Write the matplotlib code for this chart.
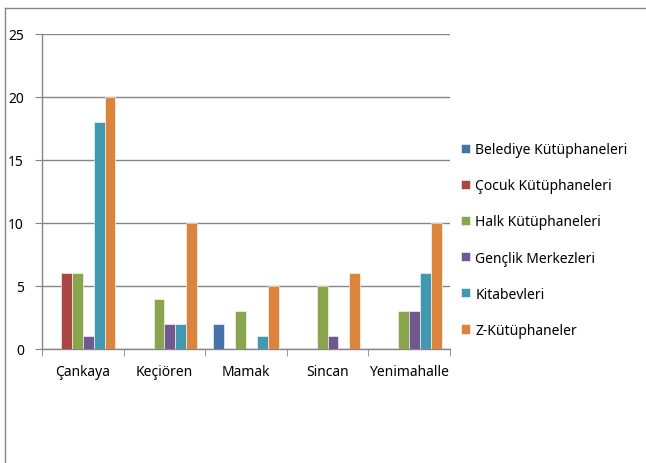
import numpy as np
import matplotlib.pyplot as plt
from matplotlib.lines import Line2D

districts = ["Çankaya", "Keçiören", "Mamak", "Sincan", "Yenimahalle"]
series_names = ["Belediye Kütüphaneleri", "Çocuk Kütüphaneleri", "Halk Kütüphaneleri",
                "Gençlik Merkezleri", "Kitabevleri", "Z-Kütüphaneler"]
belediye = [0, 0, 2, 0, 0]
cocuk = [6, 0, 0, 0, 0]
halk = [6, 4, 3, 5, 3]
genclik = [1, 2, 0, 1, 3]
kitabevleri = [18, 2, 1, 0, 6]
z_kutuphaneler = [20, 10, 5, 6, 10]
colors = ["#4572A7", "#AA4643", "#89A54E", "#71588F", "#4198AF", "#DB843D"]

plt.rcParams['font.family'] = ['Noto Sans', 'DejaVu Sans']
axis_gray = "#868686"

fig = plt.figure(figsize=(6.46, 4.64), dpi=100)
ax = fig.add_axes([42 / 646, 1 - 350 / 464, 408 / 646, 315 / 464])

values = [belediye, cocuk, halk, genclik, kitabevleri, z_kutuphaneler]
x = np.arange(len(districts))
n = len(values)
w = 0.8 / n
for i, (name, vals, c) in enumerate(zip(series_names, values, colors)):
    ax.bar(x - 0.4 + w * (i + 0.5), vals, width=w, color=c, label=name,
           edgecolor="white", linewidth=0.4, zorder=3)

ax.set_xlim(-0.5, len(districts) - 0.5)
ax.set_ylim(0, 25)
ax.set_yticks(range(0, 26, 5))
ax.yaxis.grid(True, color=axis_gray, linewidth=1, zorder=0)
ax.set_xticks(x)
ax.set_xticklabels(districts, fontsize=10)
ax.set_xticks(np.arange(-0.5, len(districts), 1), minor=True)
ax.tick_params(axis="x", which="major", length=0, pad=11)
ax.tick_params(axis="x", which="minor", length=5, color=axis_gray, direction="out")
ax.tick_params(axis="y", length=5, color=axis_gray, labelsize=10, pad=8)
for side in ["top", "right"]:
    ax.spines[side].set_visible(False)
for side in ["left", "bottom"]:
    ax.spines[side].set_color(axis_gray)
    ax.spines[side].set_linewidth(1)

ax.legend(loc="center left", bbox_to_anchor=(455 / 646, 1 - 241 / 464),
          bbox_transform=fig.transFigure, frameon=False, fontsize=10,
          handlelength=0.65, handleheight=0.65, handletextpad=0.4,
          labelspacing=1.52, borderaxespad=0)

# chart frame
fig.add_artist(Line2D([5 / 646, 5 / 646], [0, 1 - 9 / 464], transform=fig.transFigure,
                      color=axis_gray, linewidth=1))
fig.add_artist(Line2D([5 / 646, 1], [1 - 9 / 464, 1 - 9 / 464], transform=fig.transFigure,
                      color=axis_gray, linewidth=1))

fig.savefig("out.png", dpi=100)
